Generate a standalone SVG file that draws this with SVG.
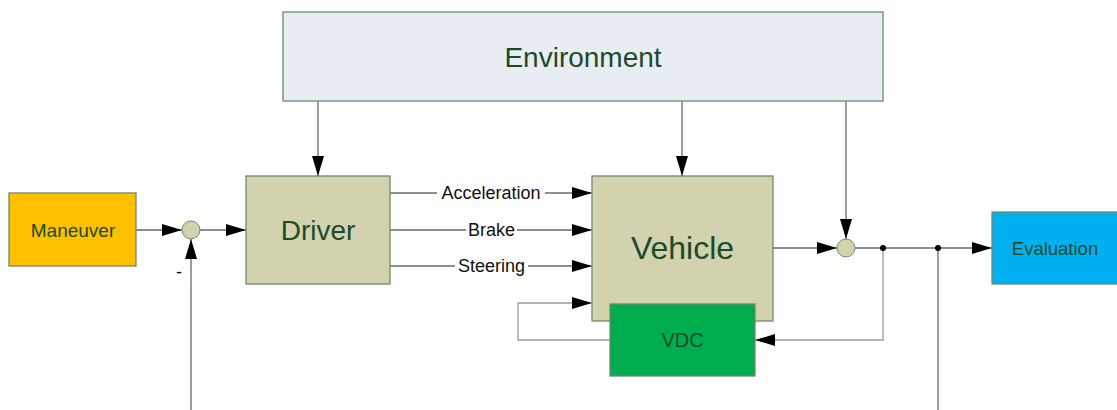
<svg xmlns="http://www.w3.org/2000/svg" width="1117" height="410" viewBox="0 0 1117 410">
  <style>
    .node { stroke: #6f8a6a; stroke-width: 1.3; }
    .lbl { font-family: "Liberation Sans", Arial, sans-serif; fill: #1c4a2a; text-anchor: middle; dominant-baseline: central; }
    .edge { font-family: "Liberation Sans", Arial, sans-serif; fill: #111; text-anchor: middle; dominant-baseline: central; font-size: 18px; }
    .wire { fill: none; stroke: #6a6a6a; stroke-width: 1.3; }
    .wire.light { stroke: #9a9a9a; }
    .arr { marker-end: url(#head); }
    .sum { fill: #d2d3ad; stroke: #6f8a6a; stroke-width: 1; }
  </style>
  <defs>
    <marker id="head" markerWidth="20" markerHeight="12" refX="20" refY="6" orient="auto" markerUnits="userSpaceOnUse">
      <path d="M0,0 L20,6 L0,12 Z" fill="#000"/>
    </marker>
  </defs>
  <rect width="1117" height="410" fill="#fff"/>

  <g id="connectors">
    <!-- reference input into first summing point -->
    <line class="wire arr" x1="136" y1="230" x2="182" y2="230"/>
    <line class="wire arr" x1="200" y1="230" x2="246" y2="230"/>
    <line class="wire arr" x1="191" y1="410" x2="191" y2="239"/>
    <!-- environment influences -->
    <line class="wire arr" x1="318" y1="101" x2="318" y2="176"/>
    <line class="wire arr" x1="682" y1="101" x2="682" y2="176"/>
    <line class="wire arr" x1="846" y1="101" x2="846" y2="239"/>
    <!-- driver commands to vehicle -->
    <line class="wire" x1="390" y1="193" x2="437" y2="193"/>
    <line class="wire arr" x1="545" y1="193" x2="592" y2="193"/>
    <line class="wire" x1="390" y1="230" x2="466" y2="230"/>
    <line class="wire arr" x1="517" y1="230" x2="592" y2="230"/>
    <line class="wire" x1="390" y1="266" x2="455" y2="266"/>
    <line class="wire arr" x1="528" y1="266" x2="592" y2="266"/>
    <!-- vehicle output -->
    <line class="wire arr" x1="773" y1="248" x2="837" y2="248"/>
    <line class="wire arr" x1="855" y1="248" x2="992" y2="248"/>
    <!-- VDC loop -->
    <polyline class="wire light arr" points="883,248 883,340 755,340"/>
    <polyline class="wire light arr" points="610,340 518,340 518,303 592,303"/>
    <line class="wire" x1="938" y1="248" x2="938" y2="410"/>
    <circle cx="883" cy="248" r="3" fill="#000"/>
    <circle cx="938" cy="248" r="3" fill="#000"/>
    <text class="edge" x="491" y="193">Acceleration</text>
    <text class="edge" x="491.5" y="230">Brake</text>
    <text class="edge" x="491.5" y="266">Steering</text>
    <text class="edge" x="179" y="272" font-size="14" fill="#333">-</text>
  </g>

  <g id="environment">
    <rect class="node" x="283" y="12" width="600" height="89" fill="#e8edf4"/>
    <text class="lbl" x="583" y="57" font-size="28">Environment</text>
  </g>
  <g id="maneuver">
    <rect class="node" x="9" y="193" width="127" height="73" fill="#ffc000"/>
    <text class="lbl" x="73" y="230" font-size="19">Maneuver</text>
  </g>
  <g id="sum1">
    <circle class="sum" cx="191" cy="230" r="9"/>
  </g>
  <g id="driver">
    <rect class="node" x="246" y="176" width="144" height="108" fill="#d2d3ae"/>
    <text class="lbl" x="318" y="230" font-size="28">Driver</text>
  </g>
  <g id="vehicle">
    <rect class="node" x="592" y="176" width="181" height="145" fill="#d2d3ae"/>
    <text class="lbl" x="682.5" y="248" font-size="32">Vehicle</text>
  </g>
  <g id="vdc">
    <rect class="node" x="610" y="304" width="145" height="72" fill="#00ad4e"/>
    <text class="lbl" x="682.5" y="340" font-size="20">VDC</text>
  </g>
  <g id="sum2">
    <circle class="sum" cx="846" cy="248" r="9"/>
  </g>
  <g id="evaluation">
    <rect class="node" x="992" y="212" width="126" height="72" fill="#00b0f0"/>
    <text class="lbl" x="1055" y="248" font-size="18.5">Evaluation</text>
  </g>
</svg>
